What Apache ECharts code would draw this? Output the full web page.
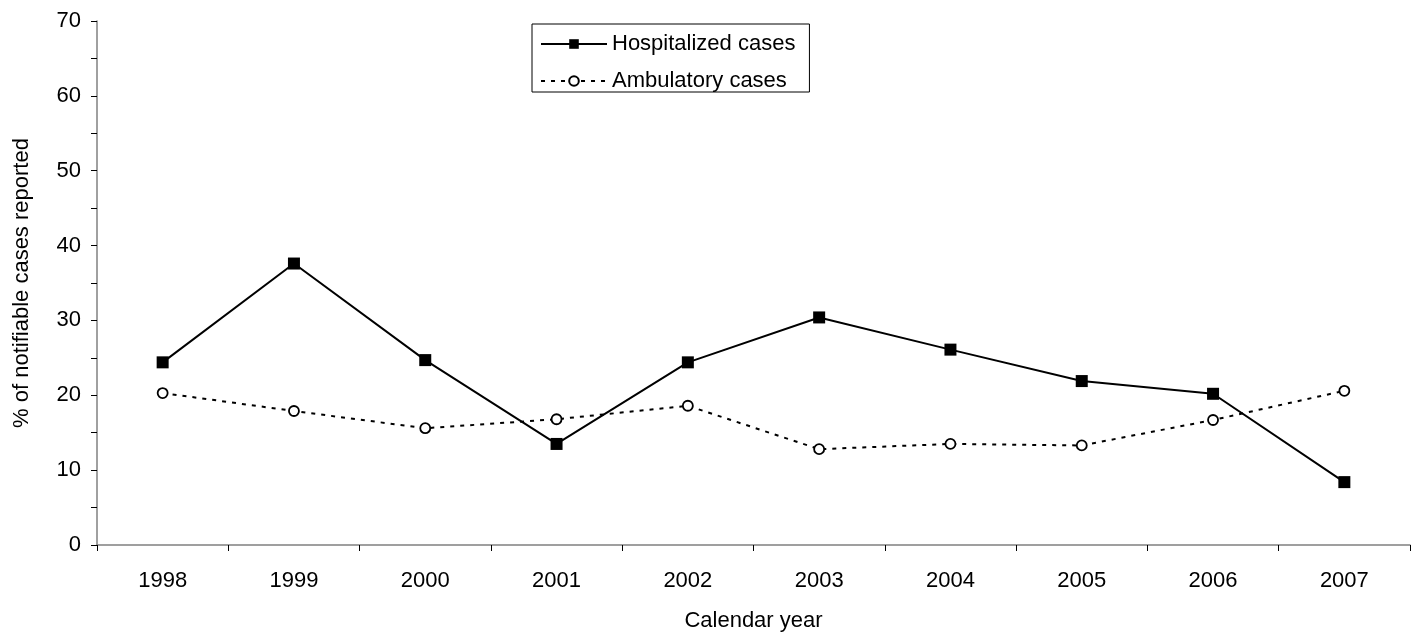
<!DOCTYPE html>
<html>
<head>
<meta charset="utf-8">
<script src="https://cdn.jsdelivr.net/npm/echarts@6/dist/echarts.min.js"></script>
<style>
html,body{margin:0;padding:0;background:#fff;}
#chart{width:1416px;height:635px;}
</style>
</head>
<body>
<div id="chart"></div>
<script>
const years = ['1998','1999','2000','2001','2002','2003','2004','2005','2006','2007'];
const hospitalized = [24.4, 37.6, 24.7, 13.5, 24.4, 30.4, 26.1, 21.9, 20.2, 8.4];
const ambulatory = [20.3, 17.9, 15.6, 16.8, 18.6, 12.8, 13.5, 13.3, 16.7, 20.6];
const yTicks = [0, 10, 20, 30, 40, 50, 60, 70];

const FONT = '"Liberation Sans", Arial, sans-serif';
const chart = echarts.init(document.getElementById('chart'), null, {renderer: 'canvas'});
chart.setOption({
  animation: false,
  backgroundColor: '#fff',
  textStyle: {fontFamily: FONT, color: '#000'},
  grid: {left: 97, right: 6, top: 21, bottom: 90, containLabel: false, outerBoundsMode: 'none'},
  legend: {
    orient: 'vertical',
    left: 532, top: 24,
    padding: [9, 14, 0, 8],
    itemGap: 15,
    itemWidth: 66,
    itemHeight: 12,
    borderColor: '#000', borderWidth: 1,
    backgroundColor: '#fff',
    textStyle: {fontFamily: FONT, fontSize: 22, color: '#000'},
    data: ['Hospitalized cases', 'Ambulatory cases']
  },
  xAxis: {
    type: 'category',
    data: years,
    boundaryGap: true,
    name: 'Calendar year',
    nameLocation: 'middle',
    nameGap: 65,
    nameMoveOverlap: false,
    nameTextStyle: {fontFamily: FONT, fontSize: 22, color: '#000', verticalAlign: 'top'},
    axisLine: {lineStyle: {color: '#808080', width: 1.5}},
    axisTick: {show: true, alignWithLabel: false, interval: 0, length: 6, lineStyle: {color: '#000'}},
    axisLabel: {fontFamily: FONT, fontSize: 22, color: '#000', margin: 25, interval: 0},
    splitLine: {show: false}
  },
  yAxis: {
    type: 'value',
    min: yTicks[0], max: yTicks[yTicks.length - 1], interval: 10,
    name: '% of notifiable cases reported',
    nameLocation: 'middle',
    nameGap: 64,
    nameMoveOverlap: false,
    nameTextStyle: {fontFamily: FONT, fontSize: 22, color: '#000'},
    axisLine: {show: true, lineStyle: {color: '#808080', width: 1.5}},
    axisTick: {show: true, length: 6, lineStyle: {color: '#000'}},
    minorTick: {show: true, splitNumber: 2, length: 6, lineStyle: {color: '#000'}},
    axisLabel: {fontFamily: FONT, fontSize: 22, color: '#000', margin: 16},
    splitLine: {show: false}
  },
  series: [
    {
      name: 'Hospitalized cases',
      type: 'line',
      data: hospitalized,
      symbol: 'rect',
      symbolSize: 12,
      showAllSymbol: true,
      lineStyle: {color: '#000', width: 2, type: 'solid'},
      itemStyle: {color: '#000', borderColor: '#000', borderWidth: 0},
      z: 3
    },
    {
      name: 'Ambulatory cases',
      type: 'line',
      data: ambulatory,
      symbol: 'circle',
      symbolSize: 10,
      showAllSymbol: true,
      lineStyle: {color: '#000', width: 2, type: [4, 6]},
      itemStyle: {color: '#fff', borderColor: '#000', borderWidth: 1.8},
      z: 2
    }
  ]
});
</script>
</body>
</html>
